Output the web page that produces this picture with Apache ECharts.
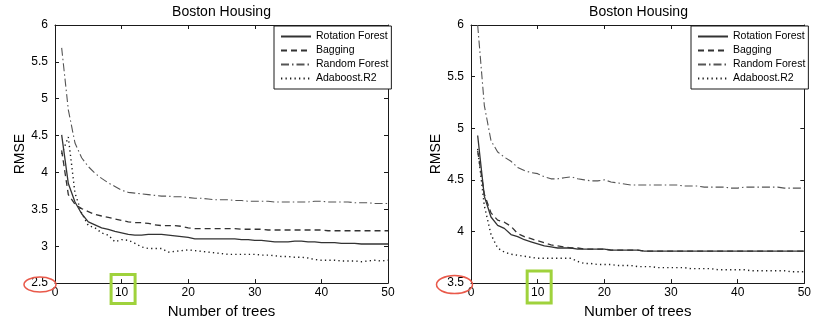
<!DOCTYPE html>
<html><head><meta charset="utf-8">
<script src="https://cdn.jsdelivr.net/npm/echarts@6/dist/echarts.min.js"></script>
<style>html,body{margin:0;padding:0;background:#fff}#c{width:814px;height:324px}</style>
</head><body><div id="c"></div>
<script>
// ---------- data ----------
const trees = [1,2,3,4,5,6,7,8,9,10,11,12,13,14,15,16,17,18,19,20,21,22,23,24,25,26,27,28,29,30,31,32,33,34,35,36,37,38,39,40,41,42,43,44,45,46,47,48,49,50];
const seriesNames = ['Rotation Forest', 'Bagging', 'Random Forest', 'Adaboost.R2'];

// left panel
const rotL = [4.51,3.85,3.60,3.44,3.33,3.29,3.25,3.23,3.20,3.18,3.16,3.15,3.15,3.16,3.16,3.16,3.15,3.14,3.13,3.12,3.10,3.10,3.10,3.10,3.10,3.10,3.10,3.09,3.09,3.08,3.08,3.07,3.06,3.06,3.06,3.07,3.07,3.06,3.06,3.05,3.05,3.05,3.04,3.04,3.04,3.03,3.03,3.03,3.03,3.03];
const bagL = [4.30,3.70,3.57,3.51,3.47,3.43,3.41,3.39,3.37,3.35,3.33,3.32,3.32,3.31,3.29,3.28,3.28,3.28,3.27,3.25,3.24,3.24,3.24,3.24,3.24,3.24,3.24,3.23,3.23,3.23,3.23,3.22,3.22,3.22,3.22,3.22,3.22,3.22,3.22,3.22,3.21,3.21,3.21,3.21,3.21,3.21,3.21,3.21,3.21,3.21];
const rfL  = [5.69,4.85,4.40,4.20,4.08,3.99,3.92,3.86,3.81,3.76,3.73,3.72,3.71,3.70,3.69,3.68,3.68,3.67,3.67,3.66,3.65,3.65,3.64,3.63,3.63,3.63,3.62,3.62,3.61,3.61,3.61,3.61,3.60,3.60,3.60,3.60,3.60,3.60,3.61,3.61,3.60,3.60,3.60,3.60,3.59,3.59,3.59,3.58,3.58,3.58];
const adaL = [4.25,4.48,3.72,3.45,3.28,3.25,3.18,3.15,3.06,3.09,3.08,3.04,2.99,2.97,2.97,2.97,2.92,2.93,2.94,2.95,2.94,2.93,2.92,2.91,2.90,2.89,2.89,2.89,2.89,2.89,2.88,2.88,2.87,2.86,2.86,2.85,2.85,2.84,2.82,2.81,2.81,2.81,2.80,2.80,2.80,2.79,2.80,2.81,2.80,2.81];

// right panel
const rotR = [4.93,4.34,4.14,4.06,4.03,3.97,3.95,3.92,3.90,3.88,3.86,3.85,3.84,3.84,3.84,3.83,3.83,3.83,3.83,3.83,3.82,3.82,3.82,3.82,3.82,3.81,3.81,3.81,3.81,3.81,3.81,3.81,3.81,3.81,3.81,3.81,3.81,3.81,3.81,3.81,3.81,3.81,3.81,3.81,3.81,3.81,3.81,3.81,3.81,3.81];
const bagR = [4.78,4.36,4.18,4.11,4.09,4.05,3.98,3.95,3.93,3.91,3.89,3.87,3.86,3.85,3.84,3.84,3.83,3.83,3.83,3.83,3.82,3.82,3.82,3.82,3.82,3.81,3.81,3.81,3.81,3.81,3.81,3.81,3.81,3.81,3.81,3.81,3.81,3.81,3.81,3.81,3.81,3.81,3.81,3.81,3.81,3.81,3.81,3.81,3.81,3.81];
const rfR  = [6.00,5.22,4.88,4.77,4.72,4.68,4.62,4.59,4.57,4.56,4.53,4.51,4.51,4.52,4.53,4.51,4.50,4.49,4.49,4.50,4.48,4.47,4.46,4.45,4.45,4.45,4.45,4.45,4.45,4.45,4.45,4.44,4.44,4.44,4.43,4.43,4.43,4.43,4.42,4.42,4.43,4.43,4.43,4.43,4.43,4.43,4.42,4.42,4.42,4.42];
const adaR = [4.80,4.25,3.97,3.84,3.80,3.78,3.77,3.76,3.75,3.74,3.74,3.74,3.74,3.74,3.74,3.71,3.69,3.69,3.68,3.68,3.68,3.67,3.67,3.67,3.66,3.66,3.66,3.65,3.65,3.65,3.65,3.65,3.64,3.64,3.64,3.64,3.63,3.63,3.63,3.63,3.63,3.62,3.62,3.62,3.62,3.62,3.62,3.61,3.61,3.61];

// axes
const titleText = 'Boston Housing';
const xName = 'Number of trees';
const yName = 'RMSE';
const xMin = 0, xMax = 50, xStep = 10;
const yMinL = 2.5, yMaxL = 6, yMinR = 3.5, yMaxR = 6, yStep = 0.5;

// ---------- styles ----------
const FONT = '"Liberation Sans", Arial, Helvetica, sans-serif';
const styles = [
  {color: '#333333', width: 1.3, type: 'solid'},
  {color: '#333333', width: 1.3, type: [6, 4]},
  {color: '#555555', width: 1.1, type: [8, 3, 1.5, 3]},
  {color: '#1e1e1e', width: 1.4, type: [1.3, 3.2]}
];
const grids = [
  {left: 55, top: 25, width: 333, height: 263},
  {left: 471, top: 25, width: 335, height: 263}
];

function pairs(ys) { return trees.map((t, i) => [t, ys[i]]); }

const axisLine = {show: true, onZero: false, lineStyle: {color: '#1a1a1a', width: 1}};
const tick = {show: true, inside: true, length: 4, lineStyle: {color: '#1a1a1a'}};
const lbl = {fontSize: 12, color: '#000', fontFamily: FONT};

const xAxis = [], yAxis = [];
[[yMinL, yMaxL], [yMinR, yMaxR]].forEach((rng, g) => {
  xAxis.push({gridIndex: g, type: 'value', min: xMin, max: xMax, interval: xStep, position: 'bottom',
    axisLine, axisTick: tick, axisLabel: Object.assign({margin: 4}, lbl), splitLine: {show: false},
    name: xName, nameLocation: 'middle', nameGap: 16,
    nameTextStyle: {fontSize: 15, color: '#000', fontFamily: FONT}});
  xAxis.push({gridIndex: g, type: 'value', min: xMin, max: xMax, interval: xStep, position: 'top',
    axisLine, axisTick: tick, axisLabel: {show: false}, splitLine: {show: false}});
  yAxis.push({gridIndex: g, type: 'value', min: rng[0], max: rng[1], interval: yStep, position: 'left',
    axisLine, axisTick: tick, axisLabel: Object.assign({margin: 7}, lbl), splitLine: {show: false},
    name: yName, nameLocation: 'middle', nameGap: 27,
    nameTextStyle: {fontSize: 14, color: '#000', fontFamily: FONT}});
  yAxis.push({gridIndex: g, type: 'value', min: rng[0], max: rng[1], interval: yStep, position: 'right',
    axisLine, axisTick: tick, axisLabel: {show: false}, splitLine: {show: false}});
});

const panelData = [[rotL, bagL, rfL, adaL], [rotR, bagR, rfR, adaR]];
const series = [];
panelData.forEach((arrs, g) => {
  arrs.forEach((ys, k) => {
    series.push({
      name: seriesNames[k], type: 'line', xAxisIndex: g * 2, yAxisIndex: g * 2,
      data: pairs(ys), showSymbol: false, symbol: 'none', smooth: false, animation: false,
      lineStyle: {color: styles[k].color, width: styles[k].width, type: styles[k].type},
      itemStyle: {color: styles[k].color}, z: 2 + (3 - k)
    });
  });
});

const legendCommon = {
  orient: 'vertical', data: seriesNames, itemWidth: 30, itemHeight: 10, itemGap: 3,
  padding: [5, 3, 5, 6], borderColor: '#1a1a1a', borderWidth: 1, backgroundColor: '#fff',
  textStyle: {fontSize: 10.5, color: '#000', fontFamily: FONT}, itemStyle: {opacity: 0},
  selectedMode: false
};

const option = {
  animation: false,
  backgroundColor: '#fff',
  grid: grids,
  title: [
    {text: titleText, left: grids[0].left + grids[0].width / 2, top: 5, textAlign: 'center', padding: 0,
     textStyle: {fontSize: 14, fontWeight: 'normal', color: '#000', fontFamily: FONT}},
    {text: titleText, left: grids[1].left + grids[1].width / 2, top: 5, textAlign: 'center', padding: 0,
     textStyle: {fontSize: 14, fontWeight: 'normal', color: '#000', fontFamily: FONT}}
  ],
  legend: [
    Object.assign({left: 274, top: 26}, legendCommon),
    Object.assign({left: 691, top: 26}, legendCommon)
  ],
  xAxis, yAxis, series
};

const chart = echarts.init(document.getElementById('c'), null, {renderer: 'canvas'});
chart.setOption(option);

// annotations: red ellipse around lowest y label, green box around the "10" x label
const gfx = [];
[[0, yMinL], [1, yMinR]].forEach(([g, ymin]) => {
  const o = chart.convertToPixel({xAxisIndex: g * 2, yAxisIndex: g * 2}, [xMin, ymin]);
  const t = chart.convertToPixel({xAxisIndex: g * 2, yAxisIndex: g * 2}, [10, ymin]);
  const rx = g === 0 ? 16 : 18, ry = g === 0 ? 7.5 : 9;
  gfx.push({type: 'ellipse', shape: {cx: o[0] - (g === 0 ? 15 : 16.5), cy: o[1] + 1.5, rx, ry},
    style: {fill: 'none', stroke: '#e9594a', lineWidth: 1.5}, z: 100});
  gfx.push({type: 'rect', shape: {x: t[0] - 10.5, y: o[1] - (g === 0 ? 8.5 : 12), width: 24, height: g === 0 ? 29 : 32},
    style: {fill: 'none', stroke: '#9fd23c', lineWidth: 3}, z: 100});
});
chart.setOption({graphic: gfx});
</script>
</body></html>
